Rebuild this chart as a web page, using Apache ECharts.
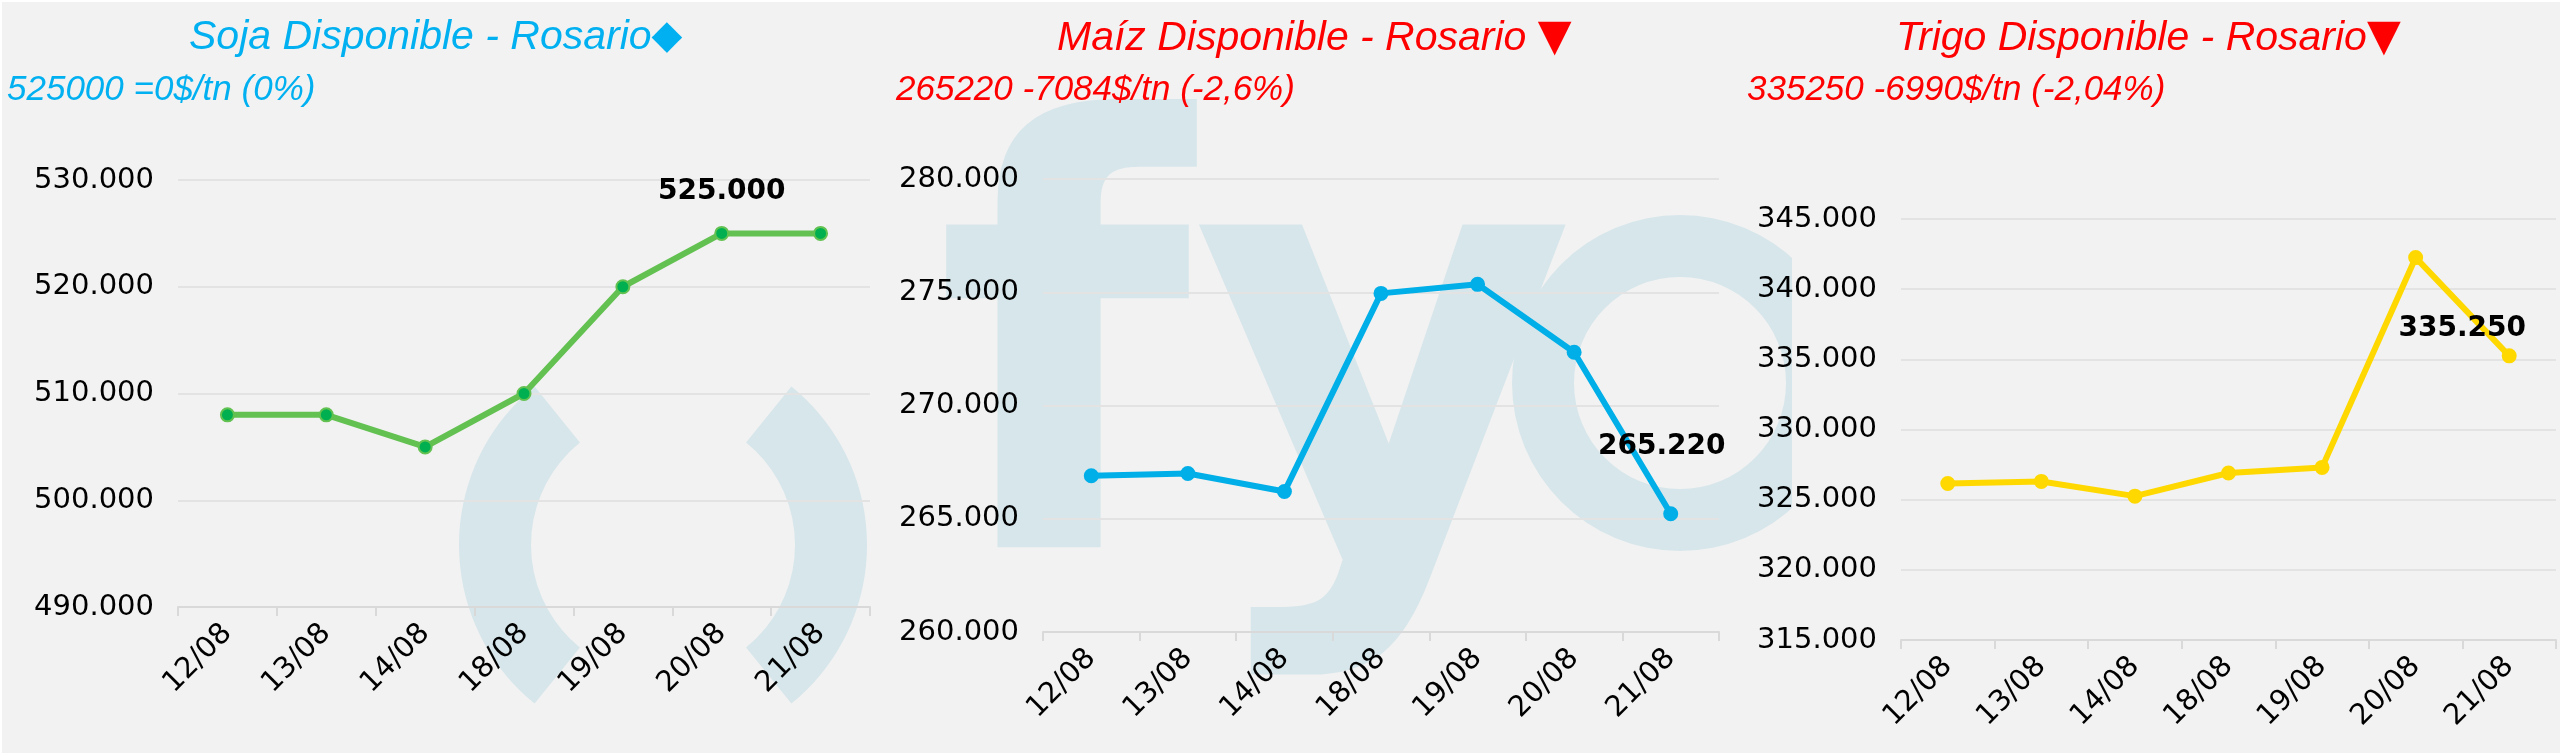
<!DOCTYPE html>
<html>
<head>
<meta charset="utf-8">
<script src="https://cdn.jsdelivr.net/npm/echarts@6/dist/echarts.min.js"></script>
<style>
html, body { margin: 0; padding: 0; background: #fff; }
#main { width: 2560px; height: 753px; }
</style>
</head>
<body>
<div id="main"></div>
<script>
// datos
var dias = ['12/08', '13/08', '14/08', '18/08', '19/08', '20/08', '21/08'];
var soja = [508000, 508000, 505000, 510000, 520000, 525000, 525000];
var maiz = [266900, 267000, 266200, 274950, 275350, 272350, 265220];
var trigo = [326150, 326300, 325250, 326900, 327300, 342250, 335250];

// escalas [min, max, intervalo]
var sojaEje = [490000, 530000, 10000];
var maizEje = [260000, 280000, 5000];
var trigoEje = [315000, 345000, 5000];

// punto con etiqueta
var sojaEtiqueta = 5;
var maizEtiqueta = 6;
var trigoEtiqueta = 6;

var titulos = ['Soja Disponible - Rosario', 'Maíz Disponible - Rosario ', 'Trigo Disponible - Rosario'];
var simbolos = ['◆', '▼', '▼'];
var subtitulos = ['525000 =0$/tn (0%)', '265220 -7084$/tn (-2,6%)', '335250 -6990$/tn (-2,04%)'];

function miles(v) {
    return String(v).replace(/\B(?=(\d{3})+(?!\d))/g, '.');
}

var chart = echarts.init(document.getElementById('main'));

var fuenteEje = 'DejaVu Sans';
var fuenteTitulo = '"Liberation Sans", Arial, sans-serif';

function titulo(i, left, color) {
    return {
        text: '{t|' + titulos[i] + '}{s|' + simbolos[i] + '}',
        left: left,
        top: 17,
        padding: 0,
        textStyle: {
            fontWeight: 'normal',
            rich: {
                t: { fontFamily: fuenteTitulo, fontStyle: 'italic', fontWeight: 'normal', fontSize: 41, color: color },
                s: { fontFamily: 'DejaVu Sans', fontWeight: 'normal', fontSize: i === 0 ? 40 : 44, color: color }
            }
        }
    };
}

function subtitulo(i, left, color) {
    return {
        text: subtitulos[i],
        left: left,
        top: 73,
        padding: 0,
        textStyle: { fontFamily: fuenteTitulo, fontStyle: 'italic', fontWeight: 'normal', fontSize: 35, color: color }
    };
}

function ejeX(g) {
    return {
        type: 'category',
        gridIndex: g,
        data: dias,
        boundaryGap: true,
        axisLine: { lineStyle: { color: '#d9d9d9', width: 2 } },
        axisTick: { show: true, length: 9, lineStyle: { color: '#d9d9d9', width: 2 } },
        axisLabel: { rotate: 45, margin: 22, color: '#000', fontFamily: fuenteEje, fontSize: 29 }
    };
}

function ejeY(g, eje) {
    return {
        type: 'value',
        gridIndex: g,
        min: eje[0],
        max: eje[1],
        interval: eje[2],
        axisLine: { show: false },
        axisTick: { show: false },
        splitLine: { lineStyle: { color: '#e3e3e3', width: 2 } },
        axisLabel: { margin: 24, color: '#000', fontFamily: fuenteEje, fontSize: 29, formatter: miles }
    };
}

function serie(g, valores, idx, linea, punto, borde, etiqueta) {
    return {
        type: 'line',
        xAxisIndex: g,
        yAxisIndex: g,
        data: valores.map(function(v, i) {
            if (i !== idx) return v;
            return { value: v, label: Object.assign({
                show: true,
                color: '#000',
                fontFamily: fuenteEje,
                fontWeight: 'bold',
                fontSize: 28,
                formatter: function(p) { return miles(p.value); }
            }, etiqueta) };
        }),
        symbol: 'circle',
        symbolSize: 13,
        showAllSymbol: true,
        lineStyle: { color: linea, width: 6 },
        itemStyle: { color: punto, borderColor: borde, borderWidth: 2 },
        emphasis: { disabled: true },
        label: { show: false }
    };
}

var marca = '#d7e6eb';

option = {
    backgroundColor: '#f2f2f2',
    animation: false,
    title: [
        titulo(0, 189, '#00b0f0'),
        subtitulo(0, 7, '#00b0f0'),
        titulo(1, 1057, '#ff0000'),
        subtitulo(1, 896, '#ff0000'),
        titulo(2, 1896, '#ff0000'),
        subtitulo(2, 1747, '#ff0000')
    ],
    graphic: [
        // marca de agua
        { type: 'arc', z: -10, shape: { cx: 663, cy: 545, r: 168, startAngle: Math.PI - 0.89, endAngle: Math.PI + 0.89 },
          style: { stroke: marca, lineWidth: 72, fill: null } },
        { type: 'arc', z: -10, shape: { cx: 663, cy: 545, r: 168, startAngle: -0.89, endAngle: 0.89 },
          style: { stroke: marca, lineWidth: 72, fill: null } },
        { type: 'text', z: -10, x: 935, y: 394,
          style: { text: 'fy', font: 'bold 590px "DejaVu Sans"', fill: marca, verticalAlign: 'middle' } },
        { type: 'ring', z: -10, shape: { cx: 1680, cy: 383, r: 168, r0: 106 }, style: { fill: marca } },
        { type: 'rect', z: -9, shape: { x: 1792, y: 150, width: 200, height: 450 }, style: { fill: '#f2f2f2' } },
        // borde blanco
        { type: 'rect', z: 10, shape: { x: 0, y: 0, width: 2560, height: 2 }, style: { fill: '#fff' } },
        { type: 'rect', z: 10, shape: { x: 0, y: 0, width: 2, height: 753 }, style: { fill: '#fff' } }
    ],
    grid: [
        { left: 178, width: 692, top: 180, height: 427 },
        { left: 1043, width: 676, top: 179, height: 453 },
        { left: 1901, width: 655, top: 219, height: 421 }
    ],
    xAxis: [ejeX(0), ejeX(1), ejeX(2)],
    yAxis: [ejeY(0, sojaEje), ejeY(1, maizEje), ejeY(2, trigoEje)],
    series: [
        serie(0, soja, sojaEtiqueta, '#62c150', '#00b050', '#62c150', { position: 'top', distance: 20 }),
        serie(1, maiz, maizEtiqueta, '#00aee8', '#00aee8', '#00aee8', { position: 'top', distance: 46, offset: [-9, 0] }),
        serie(2, trigo, trigoEtiqueta, '#ffd800', '#ffd800', '#ffd800', { position: 'top', distance: 6, offset: [-47, 0] })
    ]
};

chart.setOption(option);
</script>
</body>
</html>
